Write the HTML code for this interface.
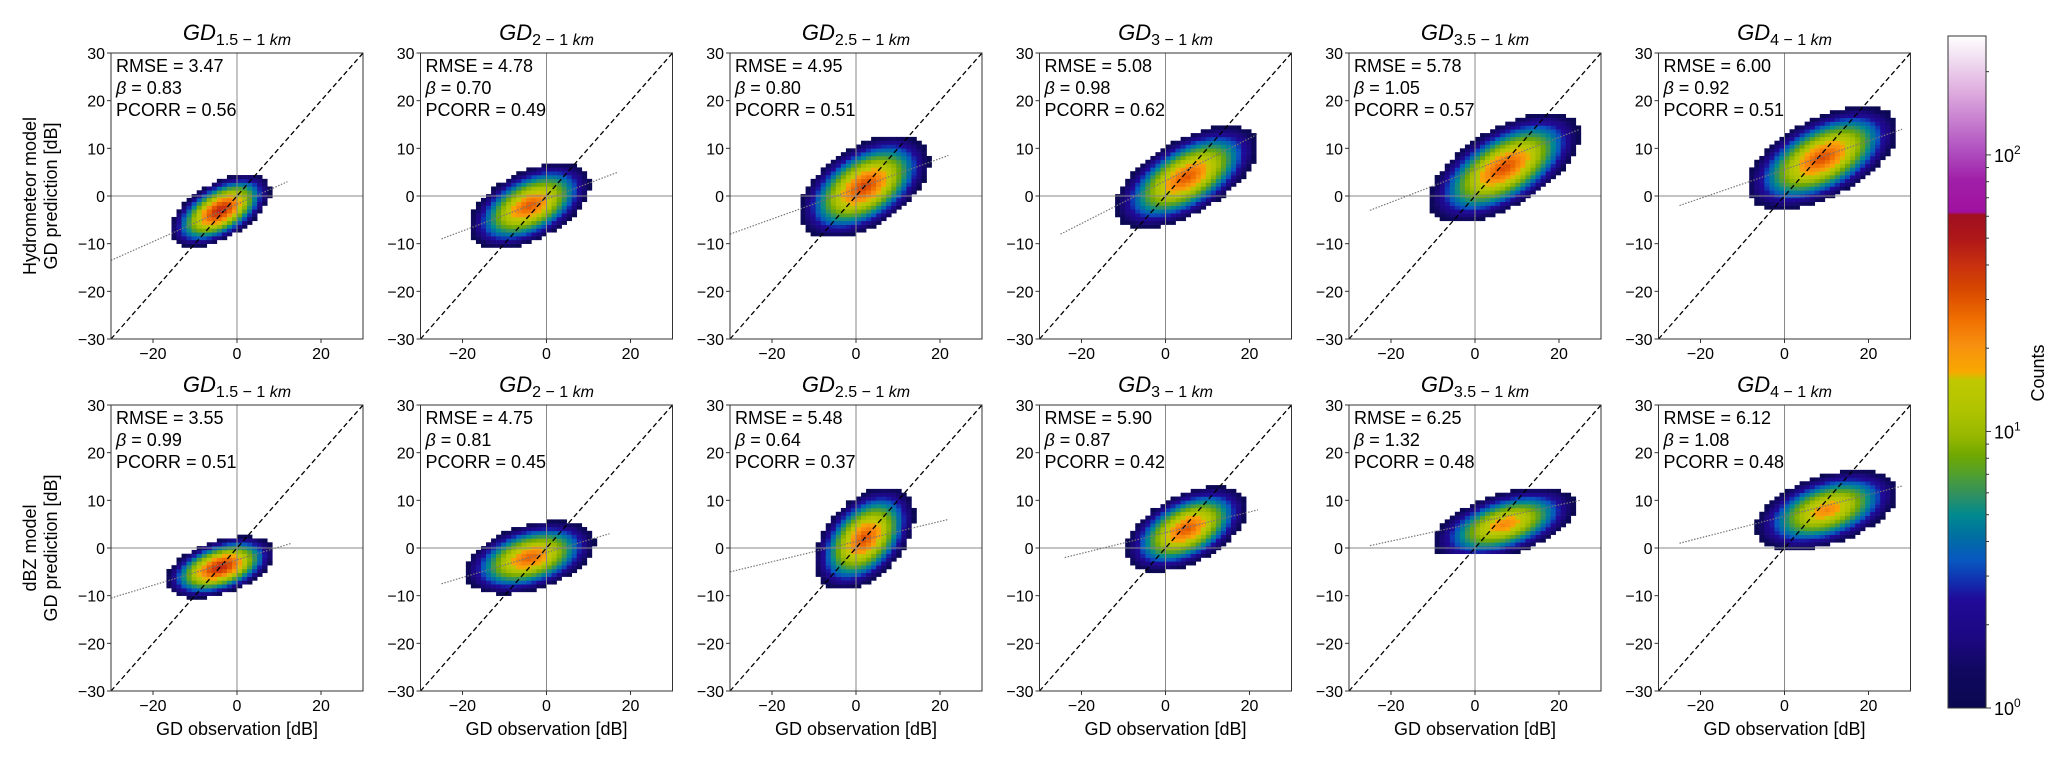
<!DOCTYPE html>
<html><head><meta charset="utf-8"><style>
html,body{margin:0;padding:0;background:#fff;}
svg{display:block;font-family:"Liberation Sans","DejaVu Sans",sans-serif;}
</style></head><body>
<svg id="fig" width="2068" height="759" viewBox="0 0 2068 759" xmlns="http://www.w3.org/2000/svg"></svg>
<script>
// ---- data ----
const titles = ["1.5 \u2212 1", "2 \u2212 1", "2.5 \u2212 1", "3 \u2212 1", "3.5 \u2212 1", "4 \u2212 1"];
const rowLabels = [["Hydrometeor model","GD prediction [dB]"],["dBZ model","GD prediction [dB]"]];
const rmse = [3.47,4.78,4.95,5.08,5.78,6.00, 3.55,4.75,5.48,5.90,6.25,6.12];
const beta = [0.83,0.70,0.80,0.98,1.05,0.92, 0.99,0.81,0.64,0.87,1.32,1.08];
const pcorr = [0.56,0.49,0.51,0.62,0.57,0.51, 0.51,0.45,0.37,0.42,0.48,0.48];
// blob parameters: centre, outer radius, tilt, peak count
const centerX = [-4,-4,2,5,7,9, -4,-4,2,5,7,10];
const centerY = [-3,-2,2,4,6,8, -4,-2,2,4,5,8];
const radiusX = [12,14.5,15.5,17,18,18, 13,15.5,12,14.5,17,17];
const radiusY = [7.7,9,10.8,10.8,11.5,10.8, 6.5,7.7,10.8,9,7.7,8.4];
const tilt = [0.55,0.5,0.5,0.6,0.6,0.55, 0.45,0.4,0.45,0.5,0.5,0.45];
const peak = [45,30,35,30,32,32, 45,28,32,30,22,22];
const floorY = [-99,-99,-99,-99,-99,-99, -99,-99,-99,-99,-1,-1];
// regression line endpoints [x1,y1,x2,y2]
const regX1 = [-30,-25,-30,-25,-25,-25, -30,-25,-30,-24,-25,-25];
const regY1 = [-13.5,-9,-8,-8,-3,-2, -10.5,-7.5,-5,-2,0.5,1];
const regX2 = [12,17,22,22,25,28, 13,15,22,22,25,28];
const regY2 = [3,5,8.5,13,14,14, 1,3,6,8,10,13];
const ticks = [-30,-20,-10,0,10,20,30];
const xticks = [-20,0,20];
const cbTicks = [1,10,100];
const cbLabels = ["0","1","2"];

const NS="http://www.w3.org/2000/svg";
const svg=document.getElementById('fig');
function mk(tag,attrs,parent){const e=document.createElementNS(NS,tag);for(const k in attrs)e.setAttribute(k,attrs[k]);(parent||svg).appendChild(e);return e;}

const stops=[[0,"#0a0850"],[.057,"#100860"],[.101,"#1c0880"],[.161,"#200a98"],[.19,"#1030b0"],[.22,"#0858c0"],[.257,"#0070a0"],[.287,"#008a90"],[.317,"#309060"],[.347,"#50a030"],[.376,"#70a800"],[.406,"#98b800"],[.443,"#b0c400"],[.488,"#c0c800"],[.5,"#f8a800"],[.54,"#f89010"],[.577,"#f07000"],[.622,"#d84800"],[.659,"#c83010"],[.696,"#b01818"],[.734,"#a01020"],[.738,"#a010a0"],[.786,"#a020a8"],[.83,"#b050c0"],[.875,"#c880d0"],[.92,"#e0b0e0"],[.964,"#f0dcf0"],[1,"#ffffff"]];
const LOGMAX=2.43;
function hex(h){return[parseInt(h.substr(1,2),16),parseInt(h.substr(3,2),16),parseInt(h.substr(5,2),16)];}
function cmap(f){f=Math.max(0,Math.min(1,f));for(let i=1;i<stops.length;i++){if(f<=stops[i][0]){const a=stops[i-1],b=stops[i];const t=(f-a[0])/(b[0]-a[0]||1);const ca=hex(a[1]),cb=hex(b[1]);return "rgb("+ca.map((v,j)=>Math.round(v+(cb[j]-v)*t)).join(",")+")";}}return "#fff";}

const PW=252, PH=286, X0=111, PITCH=309.5, ROWTOP=[53,405];
const BX=1.2, BY=0.8;
for(let r=0;r<2;r++){
  const lab=mk('text',{x:0,y:0,'font-size':18,'text-anchor':'middle',transform:`translate(36,${ROWTOP[r]+PH/2}) rotate(-90)`});
  
  
  const t1=mk('tspan',{x:0,dy:0},lab);t1.textContent=rowLabels[r][0];
  const t2=mk('tspan',{x:0,dy:21},lab);t2.textContent=rowLabels[r][1];
  for(let c=0;c<6;c++){
    const i=r*6+c;
    const L=X0+c*PITCH, T=ROWTOP[r];
    const sx=v=>L+(v+30)/60*PW, sy=v=>T+(30-v)/60*PH;
    const g=mk('g',{});
    
    
    const tt=mk('text',{x:L+PW/2,y:T-13,'text-anchor':'middle','font-size':22},g);
    
    
    const a=mk('tspan',{'font-style':'italic'},tt);a.textContent="GD";
    const b=mk('tspan',{'font-size':16,dy:5},tt);b.textContent=titles[c]+" ";
    const k=mk('tspan',{'font-size':16,'font-style':'italic'},tt);k.textContent="km";
    const cx=centerX[i],cy=centerY[i],rx=radiusX[i],ry=radiusY[i],rho=tilt[i],pk=peak[i];
    const lp=Math.log(pk);
    for(let x=-30;x<30;x+=BX){for(let y=-30;y<30;y+=BY){
      const mx=x+BX/2,my=y+BY/2;if(my<floorY[i])continue;
      const u=(mx-cx)/rx,v=(my-cy)/ry;
      const q=(u*u-2*rho*u*v+v*v)/(1-rho*rho);
      const cnt=pk*Math.exp(-lp*Math.pow(q,0.7));
      if(cnt<1)continue;
      const f=Math.log10(cnt)/LOGMAX;
      const rc=mk('rect',{x:sx(x).toFixed(2),y:sy(y+BY).toFixed(2),width:(BX/60*PW+0.3).toFixed(2),height:(BY/60*PH+0.3).toFixed(2),fill:cmap(f)},g);
      
      
    }}
    mk('line',{x1:sx(0),x2:sx(0),y1:T,y2:T+PH,stroke:'#888','stroke-width':1},g);
    mk('line',{x1:L,x2:L+PW,y1:sy(0),y2:sy(0),stroke:'#888','stroke-width':1},g);
    const d=mk('line',{x1:sx(-30),y1:sy(-30),x2:sx(30),y2:sy(30),stroke:'#000','stroke-width':1.3,'stroke-dasharray':'5,3'},g);
    
    
    const rl=mk('line',{x1:sx(regX1[i]),y1:sy(regY1[i]),x2:sx(regX2[i]),y2:sy(regY2[i]),stroke:'#777','stroke-width':1.2,'stroke-dasharray':'1.5,1.5'},g);
    
    
    mk('rect',{x:L,y:T,width:PW,height:PH,fill:'none',stroke:'#333','stroke-width':1},g);
    ticks.forEach(v=>{mk('line',{x1:L-4,x2:L,y1:sy(v),y2:sy(v),stroke:'#333'},g);
      const tl=mk('text',{x:L-6,y:sy(v)+6,'text-anchor':'end','font-size':16},g);tl.textContent=(v<0?"\u2212":"")+Math.abs(v);
      
      });
    xticks.forEach(v=>{mk('line',{x1:sx(v),x2:sx(v),y1:T+PH,y2:T+PH+4,stroke:'#333'},g);
      const tl=mk('text',{x:sx(v),y:T+PH+20,'text-anchor':'middle','font-size':16},g);tl.textContent=(v<0?"\u2212":"")+Math.abs(v);
      
      });
    if(r===1){const xl=mk('text',{x:L+PW/2,y:T+PH+44,'text-anchor':'middle','font-size':18},g);xl.textContent="GD observation [dB]";
      
      }
    const st=mk('text',{x:L+5,y:T+19,'font-size':18},g);
    
    
    const s1=mk('tspan',{x:L+5,dy:0},st);s1.textContent="RMSE = "+rmse[i].toFixed(2);
    const s2=mk('tspan',{x:L+5,dy:22},st);
    const bb=mk('tspan',{'font-style':'italic'},s2);bb.textContent="\u03b2";
    const bv=mk('tspan',{},s2);bv.textContent=" = "+beta[i].toFixed(2);
    const s3=mk('tspan',{x:L+5,dy:22},st);s3.textContent="PCORR = "+pcorr[i].toFixed(2);
  }
}
const CBL=1948,CBR=1986,CBT=36,CBB=708;
const cb=mk('g',{});


const defs=mk('defs',{});
const lg=mk('linearGradient',{id:'cbg',x1:0,y1:1,x2:0,y2:0},defs);
stops.forEach(s=>mk('stop',{offset:s[0],'stop-color':s[1]},lg));
mk('rect',{x:CBL,y:CBT,width:CBR-CBL,height:CBB-CBT,fill:'url(#cbg)',stroke:'#333','stroke-width':1},cb);
const cby=c=>CBB-Math.log10(c)/LOGMAX*(CBB-CBT);
for(let dec=0;dec<3;dec++)for(let m=1;m<10;m++){const c=m*Math.pow(10,dec);if(c>270)break;
  mk('line',{x1:CBR,x2:CBR+(m===1?5:3),y1:cby(c),y2:cby(c),stroke:'#333'},cb);}
cbTicks.forEach((c,j)=>{const t=mk('text',{x:CBR+8,y:cby(c)+7,'font-size':18},cb);
  
  
  const a=mk('tspan',{},t);a.textContent="10";const e=mk('tspan',{dy:-8,'font-size':12},t);e.textContent=cbLabels[j];});
const ct=mk('text',{x:0,y:0,'font-size':18,'text-anchor':'middle',transform:`translate(2044,373) rotate(-90)`},cb);
ct.textContent="Counts";


</script>
</body></html>
